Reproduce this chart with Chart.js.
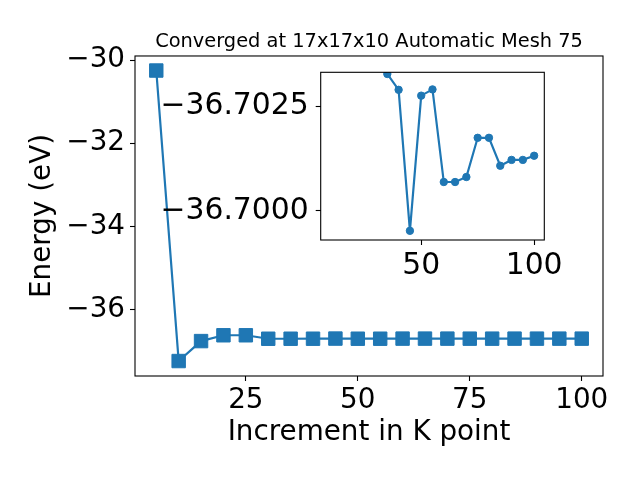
<!DOCTYPE html>
<html>
<head>
<meta charset="utf-8">
<script src="https://cdn.jsdelivr.net/npm/chart.js@4.4.1/dist/chart.umd.min.js"></script>
<style>
  body { margin: 0; background: #fff; }
  #wrap { position: relative; width: 640px; height: 480px; }
  canvas { position: absolute; left: 0; top: 0; }
  #insetChart { pointer-events: none; }
</style>
</head>
<body>
<div id="wrap">
  <canvas id="mainChart" width="640" height="480"></canvas>
  <canvas id="insetChart" width="640" height="480"></canvas>
</div>
<script>
// k-point increments and total energies (eV)
const kPoints = [5, 10, 15, 20, 25, 30, 35, 40, 45, 50, 55, 60, 65, 70, 75, 80, 85, 90, 95, 100];
const energies = [
  -30.25, -37.24, -36.76, -36.62, -36.62, -36.7035, -36.70328, -36.70290, -36.69952, -36.70276,
  -36.70291, -36.70069, -36.70069, -36.70081, -36.70175, -36.70175, -36.70108, -36.70122, -36.70122, -36.70132
];
// the zoomed inset starts at k = 30
const insetStart = 5;

const xTicksMain = [25, 50, 75, 100];
const yTicksMain = [-36, -34, -32, -30];
const xTicksInset = [50, 100];
const yTicksInset = [-36.7025, -36.7000];

const blue = '#1f77b4';
Chart.defaults.font.family = 'DejaVu Sans';
Chart.defaults.color = '#000';

const fmt = (v, d) => (v < 0 ? '\u2212' : '') + Math.abs(v).toFixed(d);

// matplotlib style frame on all four sides
const frameBox = {
  id: 'frameBox',
  afterDatasetsDraw(chart) {
    const { ctx, chartArea: a } = chart;
    ctx.save();
    ctx.strokeStyle = '#000';
    ctx.lineWidth = 1.1;
    ctx.strokeRect(a.left, a.top, a.right - a.left, a.bottom - a.top);
    ctx.restore();
  }
};

const tickGrid = { drawOnChartArea: false, drawTicks: true, tickLength: 5, tickColor: '#000', tickWidth: 1.1 };

const mainChart = new Chart(document.getElementById('mainChart'), {
  type: 'line',
  data: {
    datasets: [{
      data: kPoints.map((k, i) => ({ x: k, y: energies[i] })),
      borderColor: blue,
      backgroundColor: blue,
      borderWidth: 2.2,
      pointStyle: 'rect',
      pointRadius: 9.5,
      pointBorderWidth: 1,
      pointBorderColor: blue,
      pointBackgroundColor: blue,
    }]
  },
  options: {
    responsive: false,
    animation: false,
    events: [],
    layout: { padding: { left: 0, right: 37, top: 0, bottom: 0 } },
    plugins: {
      legend: { display: false },
      tooltip: { enabled: false },
      title: {
        display: true,
        text: 'Converged at 17x17x10 Automatic Mesh 75',
        fullSize: false,
        color: '#000',
        font: { size: 19.4, weight: 'normal' },
        padding: { top: 30, bottom: 2.7 }
      }
    },
    scales: {
      x: {
        type: 'linear', min: 0.25, max: 104.75,
        grid: tickGrid, border: { display: false },
        afterBuildTicks: s => { s.ticks = xTicksMain.map(v => ({ value: v })); },
        afterFit: s => { s.height = 104; },
        ticks: { font: { size: 27.8 }, padding: 3, maxRotation: 0, autoSkip: false },
        title: { display: true, text: 'Increment in K point', font: { size: 27.8 }, padding: { top: 0, bottom: 30.8 } }
      },
      y: {
        type: 'linear', min: -37.6, max: -29.9,
        grid: tickGrid, border: { display: false },
        afterBuildTicks: s => { s.ticks = yTicksMain.map(v => ({ value: v })); },
        afterFit: s => { s.width = 135; },
        ticks: { font: { size: 27.8 }, padding: 5, autoSkip: false, callback: v => fmt(v, 0) },
        title: { display: true, text: 'Energy (eV)', font: { size: 27.8 }, padding: { top: 26.3, bottom: 0 } }
      }
    }
  },
  plugins: [frameBox]
});

const insetChart = new Chart(document.getElementById('insetChart'), {
  type: 'line',
  data: {
    datasets: [{
      data: kPoints.slice(insetStart).map((k, i) => ({ x: k, y: energies[insetStart + i] })),
      borderColor: blue,
      backgroundColor: blue,
      borderWidth: 2.2,
      pointStyle: 'circle',
      pointRadius: 3.7,
      pointBorderWidth: 1,
      pointBorderColor: blue,
      pointBackgroundColor: blue,
      clip: 0
    }]
  },
  options: {
    responsive: false,
    animation: false,
    events: [],
    layout: { padding: { left: 0, right: 95.7, top: 72.3, bottom: 0 } },
    plugins: { legend: { display: false }, tooltip: { enabled: false } },
    scales: {
      x: {
        type: 'linear', min: 5.5, max: 104.5,
        grid: tickGrid, border: { display: false },
        afterBuildTicks: s => { s.ticks = xTicksInset.map(v => ({ value: v })); },
        afterFit: s => { s.height = 240; },
        ticks: { font: { size: 29.8 }, padding: 3, maxRotation: 0, autoSkip: false }
      },
      y: {
        type: 'linear', reverse: true, min: -36.70332, max: -36.6993,
        grid: tickGrid, border: { display: false },
        afterBuildTicks: s => { s.ticks = yTicksInset.map(v => ({ value: v })); },
        afterFit: s => { s.width = 320.7; },
        ticks: { font: { size: 29.8 }, padding: 7, autoSkip: false, callback: v => fmt(v, 4) }
      }
    }
  },
  plugins: [frameBox]
});
</script>
</body>
</html>
